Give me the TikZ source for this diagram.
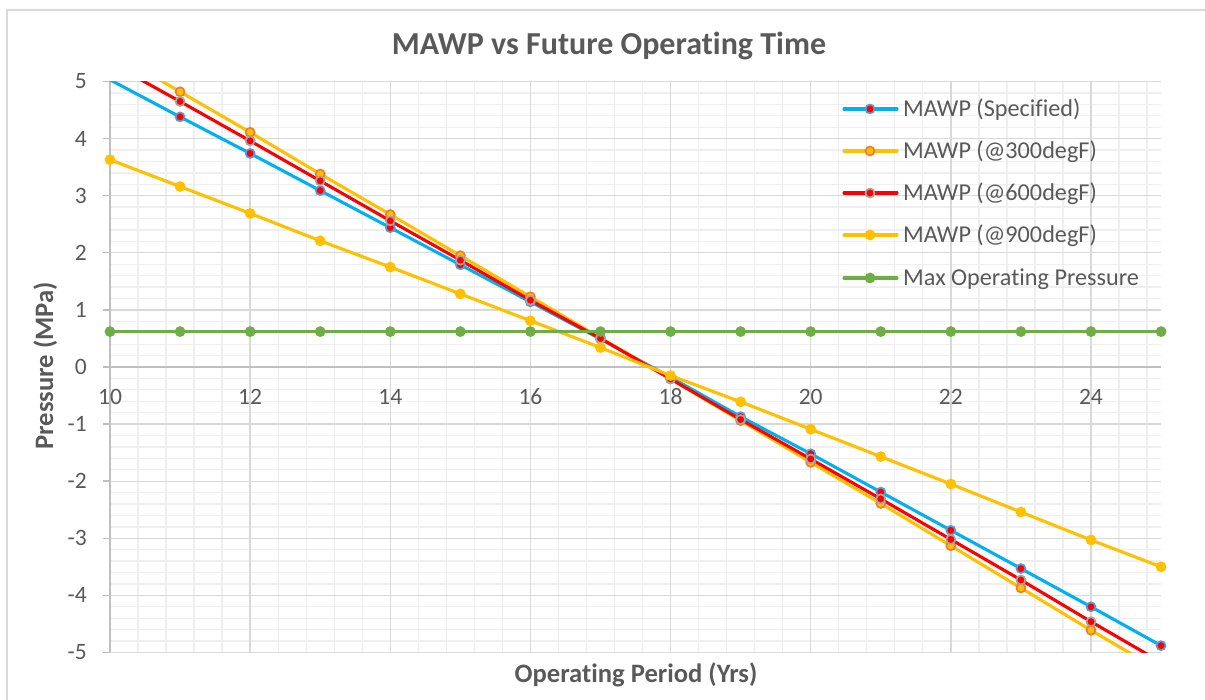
\documentclass[tikz,border=0pt]{standalone}
\usepackage{fontspec}
\setmainfont{Carlito}[Ligatures=CommonOff]
\definecolor{txtgray}{HTML}{595959}
\definecolor{majgrid}{HTML}{D9D9D9}
\definecolor{mingrid}{HTML}{EFEFEF}
\definecolor{axisgray}{HTML}{BFBFBF}
\definecolor{specblue}{HTML}{00B0F0}
\definecolor{markblue}{HTML}{5B9BD5}
\definecolor{gold}{HTML}{FFC000}
\definecolor{markorange}{HTML}{ED7D31}
\definecolor{markgray}{HTML}{A5A5A5}
\definecolor{mopgreen}{HTML}{70AD47}
\tikzset{
  mingridline/.style={mingrid, line width=1.3pt},
  majgridline/.style={majgrid, line width=1.3pt},
  axisline/.style={axisgray, line width=1.4pt},
  series/.style={line width=3.1pt, line join=round, line cap=round},
  specmark/.style={fill=red, draw=markblue, line width=1.7pt},
  hotmark/.style={fill=gold, draw=markorange, line width=1.7pt},
  warmmark/.style={fill=red, draw=markgray, line width=1.7pt},
  coolmark/.style={fill=gold, draw=gold, line width=1.7pt},
  mopmark/.style={fill=mopgreen, draw=mopgreen, line width=1.7pt}
}
\def\mr{4.5pt}
\begin{document}
\begin{tikzpicture}[x=1pt, y=1pt, every node/.style={text=txtgray, inner sep=0pt, font=\fontsize{23.5}{28}\selectfont}]
        \useasboundingbox (0,0) rectangle (1205,700);
        % Chart frame
        \draw[majgrid, line width=1.5pt] (7,0) -- (7,690) -- (1205,690);

        % Title
        \node[anchor=base, font=\fontsize{32}{38}\selectfont\bfseries] (title) at (609,645) {MAWP vs Future Operating Time};

        % Axis titles
        \node[anchor=base, font=\fontsize{26.6}{32}\selectfont\bfseries] (xtitle) at (636,17) {Operating Period (Yrs)};
        \node[anchor=base, rotate=90, font=\fontsize{26.6}{32}\selectfont\bfseries] (ytitle) at (53,334) {Pressure (MPa)};

        \begin{scope}[shift={(-590.7,333)}, x=70.07pt, y=57.1pt]
        % Minor grid
        \foreach \i in {1,...,37}
            \draw[mingridline] ({10+0.4*\i},-5) -- ({10+0.4*\i},5);
        \foreach \j in {-24,...,24}
            \draw[mingridline] (10,{0.2*\j}) -- (25,{0.2*\j});

        % Major grid and ticks
        \foreach \i in {12,14,...,24}
            \draw[majgridline] (\i,-5) -- (\i,5);
        \foreach \j in {-5,...,5}
            \draw[majgridline] (10,\j) -- (25,\j);
        \foreach \j in {-5,...,5}
            \draw[axisline] (9.9,\j) -- (10,\j);

        % Axes
        \draw[axisline] (10,-5) -- (10,5);
        \draw[axisline] (9.9,0) -- (25,0);

        % Tick labels
        \foreach \j in {-5,...,5}
            \node[anchor=east] (ylab\j) at (9.672,\j) {\j};
        \foreach \i in {10,12,...,24}
            \node (xlab\i) at (\i,-0.525) {\i};

        % Series lines
        \begin{scope}
        \clip (9.8,-5) rectangle (25.2,5);
        \draw[series, specblue] plot coordinates {(10,5.03) (11,4.38) (12,3.74) (13,3.09) (14,2.44) (15,1.79) (16,1.14) (17,0.49) (18,-0.18) (19,-0.87) (20,-1.52) (21,-2.19) (22,-2.86) (23,-3.53) (24,-4.20) (25,-4.88)};
        \draw[series, gold] plot coordinates {(10,5.54) (11,4.82) (12,4.11) (13,3.38) (14,2.67) (15,1.95) (16,1.23) (17,0.51) (18,-0.21) (19,-0.94) (20,-1.67) (21,-2.39) (22,-3.13) (23,-3.87) (24,-4.61) (25,-5.33)};
        \draw[series, red] plot coordinates {(10,5.33) (11,4.65) (12,3.96) (13,3.26) (14,2.56) (15,1.87) (16,1.17) (17,0.50) (18,-0.21) (19,-0.92) (20,-1.61) (21,-2.31) (22,-3.02) (23,-3.73) (24,-4.46) (25,-5.17)};
        \draw[series, gold] plot coordinates {(10,3.63) (11,3.16) (12,2.69) (13,2.21) (14,1.75) (15,1.28) (16,0.81) (17,0.34) (18,-0.15) (19,-0.61) (20,-1.09) (21,-1.57) (22,-2.05) (23,-2.54) (24,-3.03) (25,-3.50)};
        \draw[series, mopgreen] (10,0.62) -- (25,0.62);
        \end{scope}

        % Markers
        \foreach \px/\py in {11/4.38, 12/3.74, 13/3.09, 14/2.44, 15/1.79, 16/1.14, 17/0.49, 18/-0.18, 19/-0.87, 20/-1.52, 21/-2.19, 22/-2.86, 23/-3.53, 24/-4.20, 25/-4.88}
            \filldraw[specmark] (\px,\py) circle[radius=\mr];
        \foreach \px/\py in {11/4.82, 12/4.11, 13/3.38, 14/2.67, 15/1.95, 16/1.23, 17/0.51, 18/-0.21, 19/-0.94, 20/-1.67, 21/-2.39, 22/-3.13, 23/-3.87, 24/-4.61}
            \filldraw[hotmark] (\px,\py) circle[radius=\mr];
        \foreach \px/\py in {11/4.65, 12/3.96, 13/3.26, 14/2.56, 15/1.87, 16/1.17, 17/0.50, 18/-0.21, 19/-0.92, 20/-1.61, 21/-2.31, 22/-3.02, 23/-3.73, 24/-4.46}
            \filldraw[warmmark] (\px,\py) circle[radius=\mr];
        \foreach \px/\py in {10/3.63, 11/3.16, 12/2.69, 13/2.21, 14/1.75, 15/1.28, 16/0.81, 17/0.34, 18/-0.15, 19/-0.61, 20/-1.09, 21/-1.57, 22/-2.05, 23/-2.54, 24/-3.03, 25/-3.50}
            \filldraw[coolmark] (\px,\py) circle[radius=\mr];
        \foreach \px in {10,...,25}
            \filldraw[mopmark] (\px,0.62) circle[radius=\mr];
        \end{scope}

        % Legend
        \draw[series, specblue] (844,591) -- (897,591);
        \filldraw[specmark] (870,591) circle[radius=\mr];
        \node[anchor=base west, font=\fontsize{24.2}{29}\selectfont] (legspec) at (903,583.3) {MAWP (Specified)};
        \draw[series, gold] (844,549) -- (897,549);
        \filldraw[hotmark] (870,549) circle[radius=\mr];
        \node[anchor=base west, font=\fontsize{24.2}{29}\selectfont] (leghot) at (903,541.3) {MAWP (@300degF)};
        \draw[series, red] (844,507) -- (897,507);
        \filldraw[warmmark] (870,507) circle[radius=\mr];
        \node[anchor=base west, font=\fontsize{24.2}{29}\selectfont] (legwarm) at (903,499.3) {MAWP (@600degF)};
        \draw[series, gold] (844,465) -- (897,465);
        \filldraw[coolmark] (870,465) circle[radius=\mr];
        \node[anchor=base west, font=\fontsize{24.2}{29}\selectfont] (legcool) at (903,457.3) {MAWP (@900degF)};
        \draw[series, mopgreen] (844,422) -- (897,422);
        \filldraw[mopmark] (870,422) circle[radius=\mr];
        \node[anchor=base west, font=\fontsize{24.2}{29}\selectfont] (legmop) at (903,414.3) {Max Operating Pressure};
    \end{tikzpicture}
\end{document}
